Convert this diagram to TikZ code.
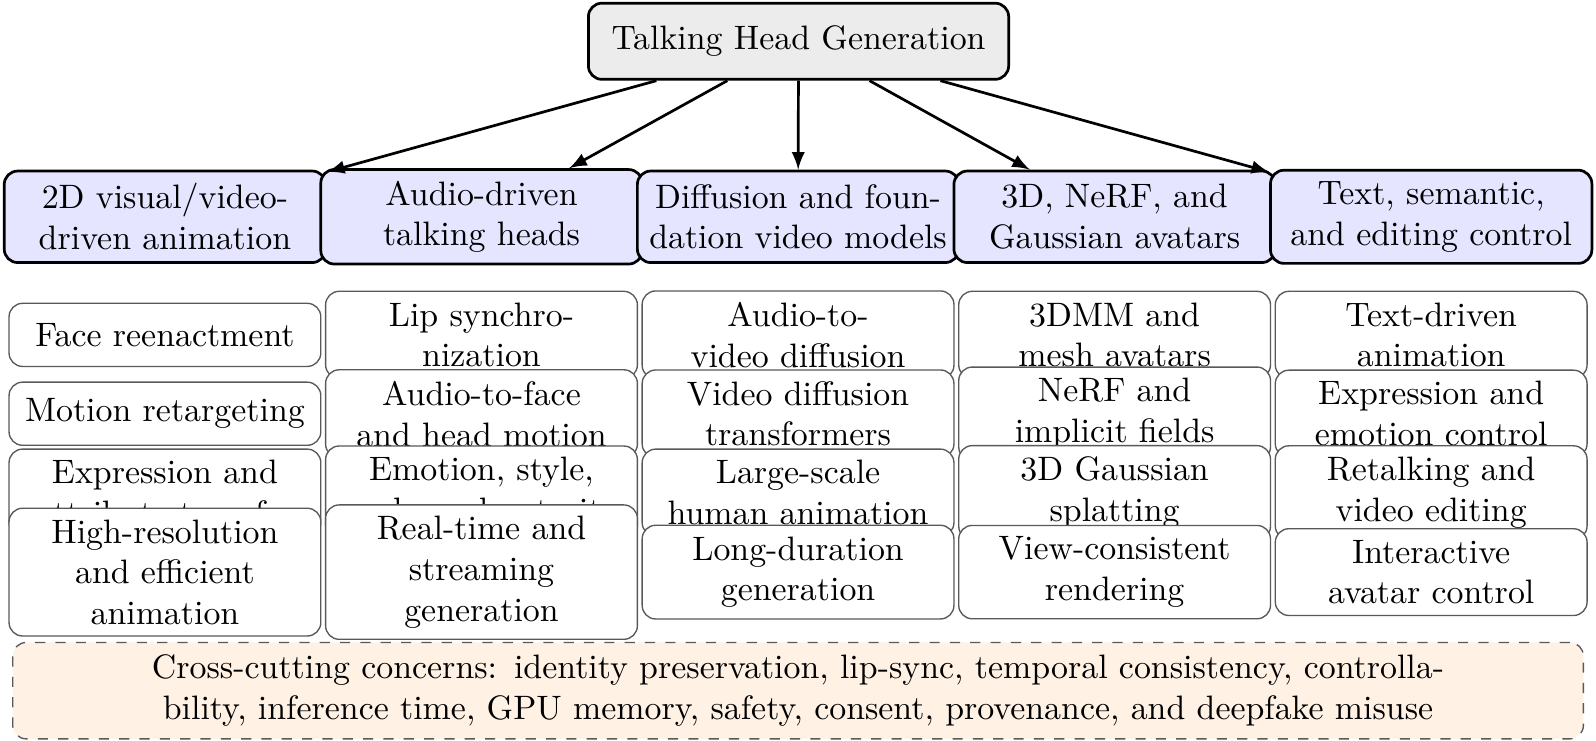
\documentclass[tikz,border=0pt]{standalone}
\usepackage{tikz}
\usetikzlibrary{arrows,positioning}

\begin{document}
\begin{tikzpicture}[>=latex,
box_root/.style={draw, thick, rounded corners=4pt, fill=gray!15, minimum width=4.36cm, minimum height=0.79cm},
box_cat/.style={draw, thick, rounded corners=4pt, fill=blue!10, text width=3.1cm, align=center, minimum height=0.95cm},
box_leaf/.style={draw=black!65, rounded corners=4pt, fill=white, text width=3cm, align=center, minimum height=0.655cm},
box_note/.style={draw=black!65, dashed, rounded corners=4pt, fill=orange!10, text width=16.06cm, align=center, minimum height=1.0cm}]

    % page frame
    \useasboundingbox (0,0) rectangle (16.557,-7.687);

    % root
    \node[box_root] (root) at (8.284,-0.428) {Talking Head Generation};

    % first level
    \node[box_cat] (C0) at (1.711,-2.249) {2D visual/video-\\driven animation};
    \node[box_cat] (C1) at (4.995,-2.249) {Audio-driven\\talking heads};
    \node[box_cat] (C2) at (8.279,-2.249) {Diffusion and foun-\\dation video models};
    \node[box_cat] (C3) at (11.563,-2.249) {3D, NeRF, and\\Gaussian avatars};
    \node[box_cat] (C4) at (14.847,-2.249) {Text, semantic,\\and editing control};

    \path [->, thick] (root) edge (C0)
                      (root) edge (C1)
                      (root) edge (C2)
                      (root) edge (C3)
                      (root) edge (C4);

    % second level, column 0
    \node[box_leaf] (A0) at (1.711,-3.474) {Face reenactment};
    \node[box_leaf] (A1) at (1.711,-4.292) {Motion retargeting};
    \node[box_leaf] (A2) at (1.711,-5.111) {Expression and\\attribute transfer};
    \node[box_leaf] (A3) at (1.711,-5.935) {High-resolution\\and efficient\\animation};

    % second level, column 1
    \node[box_leaf] (B0) at (4.995,-3.474) {Lip synchro-\\nization};
    \node[box_leaf] (B1) at (4.995,-4.292) {Audio-to-face\\and head motion};
    \node[box_leaf] (B2) at (4.995,-5.111) {Emotion, style,\\and speaker traits};
    \node[box_leaf] (B3) at (4.995,-5.935) {Real-time and\\streaming\\generation};

    % second level, column 2
    \node[box_leaf] (D0) at (8.279,-3.474) {Audio-to-\\video diffusion};
    \node[box_leaf] (D1) at (8.279,-4.292) {Video diffusion\\transformers};
    \node[box_leaf] (D2) at (8.279,-5.111) {Large-scale\\human animation};
    \node[box_leaf] (D3) at (8.279,-5.935) {Long-duration\\generation};

    % second level, column 3
    \node[box_leaf] (E0) at (11.563,-3.474) {3DMM and\\mesh avatars};
    \node[box_leaf] (E1) at (11.563,-4.292) {NeRF and\\implicit fields};
    \node[box_leaf] (E2) at (11.563,-5.111) {3D Gaussian\\splatting};
    \node[box_leaf] (E3) at (11.563,-5.935) {View-consistent\\rendering};

    % second level, column 4
    \node[box_leaf] (F0) at (14.847,-3.474) {Text-driven\\animation};
    \node[box_leaf] (F1) at (14.847,-4.292) {Expression and\\emotion control};
    \node[box_leaf] (F2) at (14.847,-5.111) {Retalking and\\video editing};
    \node[box_leaf] (F3) at (14.847,-5.935) {Interactive\\avatar control};

    % bottom note
    \node[box_note] (note) at (8.279,-7.165) {Cross-cutting concerns: identity preservation, lip-sync, temporal consistency, controlla-\\bility, inference time, GPU memory, safety, consent, provenance, and deepfake misuse};

\end{tikzpicture}
\end{document}
